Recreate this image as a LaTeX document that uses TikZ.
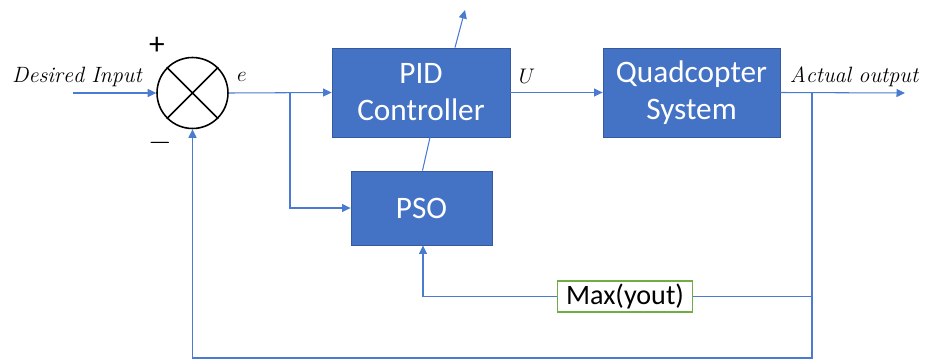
\documentclass[tikz,border=0pt]{standalone}
\usepackage{fontspec}
\setsansfont{Carlito}
\usetikzlibrary{arrows.meta,positioning}
\definecolor{ctrlBlue}{HTML}{4472C4}
\definecolor{wireBlue}{HTML}{4A7BD0}
\definecolor{maxGreen}{HTML}{70AD47}

\begin{document}
\begin{tikzpicture}[x=0.02cm,y=-0.02cm,every node/.style={font=\sffamily\fontsize{17.8}{21}\selectfont}]
      \tikzstyle{block}=[draw=ctrlBlue!80!black,fill=ctrlBlue,text=white,line width=0.5pt,
                         align=center,inner sep=0pt]
      \tikzstyle{wire}=[wireBlue,line width=0.6pt]
      \tikzstyle{arr}=[wire,-{Triangle[length=1.7mm,width=1.6mm]}]
      \tikzstyle{sig}=[font=\fontsize{12.6}{14}\selectfont,inner sep=0pt]
      \useasboundingbox (0,0) rectangle (931,362);

      \node[draw,circle,line width=0.9pt,minimum size=1.42cm,inner sep=0pt] (sum) at (192.5,93) {};
      \draw[line width=0.9pt] (sum.north west) -- (sum.south east)
                              (sum.north east) -- (sum.south west);
      \node[inner sep=0pt] (plus) at (157,46) {+};
      \node[inner sep=0pt] (minus) at (160,143) {$-$};

      \node[block,minimum width=3.56cm,minimum height=1.78cm] (pid) at (421,92.5) {PID\\Controller};
      \node[block,minimum width=2.82cm,minimum height=1.48cm] (pso) at (421.5,208) {PSO};
      \node[block,minimum width=3.54cm,minimum height=1.78cm] (quad) at (691.5,92.5) {Quadcopter\\System};
      \node[draw=maxGreen,fill=white,line width=0.8pt,minimum width=2.7cm,minimum height=0.62cm,
            inner sep=0pt,font=\sffamily\fontsize{16}{18}\selectfont] (max) at (625,296.5) {Max(yout)};

      \node[sig] (din) at (77,77) {$\mathit{Desired\ Input}$};
      \node[sig] (err) at (242,77) {$e$};
      \node[sig] (ctl) at (527,76) {$U$};
      \node[sig] (aout) at (854,77) {$\mathit{Actual\ output}$};

      \coordinate (src) at (73,93);
      \coordinate (ebr) at (290,93);
      \coordinate (ybr) at (812,93);
      \coordinate (yout) at (905,93);
      \coordinate (ybot) at (812,358);
      \coordinate (tune) at (465,10);

      \draw[arr] (src) -- (sum.west);
      \draw[arr] (sum.east) -- (pid.west);
      \draw[arr] (ebr) |- (pso.west);
      \draw[arr] (pid.east) -- (quad.west);
      \draw[arr] (quad.east) -- (yout);
      \draw[arr] (ybr) -- (ybot) -| (sum.south);
      \draw[wire] (ybr |- max) -- (max.east);
      \draw[arr] (max.west) -| ([xshift=0.03cm]pso.south);
      \draw[wire] ([xshift=0.02cm]pso.north) -- ([xshift=0.18cm]pid.south);
      \draw[arr] ([xshift=0.68cm]pid.north) -- (tune);
    \end{tikzpicture}
\end{document}
